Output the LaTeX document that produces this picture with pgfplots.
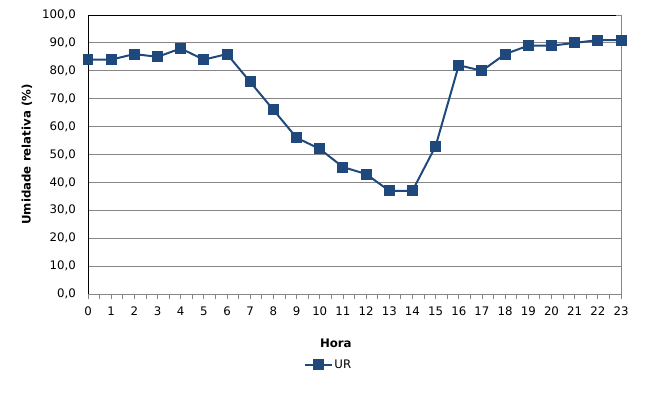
\documentclass[border=0pt]{standalone}
\usepackage{pgfplots}
\pgfplotsset{compat=1.18}
\usetikzlibrary{calc}
\usepackage{fontspec}
\setmainfont{DejaVu Sans}
\definecolor{urblue}{RGB}{31,73,125}
\definecolor{gridgray}{RGB}{134,134,134}
\begin{document}
\fontsize{11.8}{14}\selectfont
\begin{tikzpicture}
\begin{axis}[
  name=ax,
  scale only axis,
  width=533bp, height=279bp,
  xmin=0, xmax=23, ymin=0, ymax=100,
  xtick={0,...,23},
  minor x tick num=1,
  ytick={0,10,...,100},
  ymajorgrids,
  grid style={gridgray, line width=0.8pt},
  axis line style={gridgray, line width=0.8pt},
  tick style={gridgray, line width=0.8pt},
  xtick align=outside,
  major tick length=5bp, minor tick length=5bp,
  ytick style={draw=none},
  xtick pos=bottom,
  clip=false,
  /pgf/number format/assume math mode=true,
  yticklabel style={/pgf/number format/fixed, /pgf/number format/fixed zerofill, /pgf/number format/precision=1, /pgf/number format/use comma, xshift=-8bp},
  xticklabel style={yshift=-4bp},
  xlabel={\textbf{Hora}},
  xlabel style={at={(axis description cs:0.465,-0.1756)}, anchor=center},
  ylabel={\textbf{Umidade relativa (\%)}},
  ylabel style={at={(axis description cs:-0.1144,0.5)}, anchor=center, rotate=0},
  legend style={at={(axis description cs:0.451,-0.254)}, anchor=center, draw=none, fill=none},
  legend image code/.code={\draw[mark repeat=2,mark phase=2,#1] plot coordinates {(0bp,0bp)(13.5bp,0bp)(27bp,0bp)};},
]
\draw[black, line width=0.8pt] (rel axis cs:0,0) -- (rel axis cs:0,1) -- (rel axis cs:0.99,1);
\addplot[urblue, line width=2pt, mark=square*, mark size=4.5bp, mark options={solid, fill=urblue}]
 coordinates {
 (0,84) (1,84) (2,86) (3,85) (4,88) (5,84) (6,86) (7,76) (8,66) (9,56)
 (10,52) (11,45.5) (12,43) (13,37) (14,37) (15,53) (16,82) (17,80) (18,86)
 (19,89) (20,89) (21,90) (22,91) (23,91)
 };
\addlegendentry{UR}
\end{axis}
\pgfresetboundingbox
\useasboundingbox ($(ax.south west)+(-88bp,-102bp)$) rectangle ($(ax.north east)+(36bp,15bp)$);
\end{tikzpicture}
\end{document}
